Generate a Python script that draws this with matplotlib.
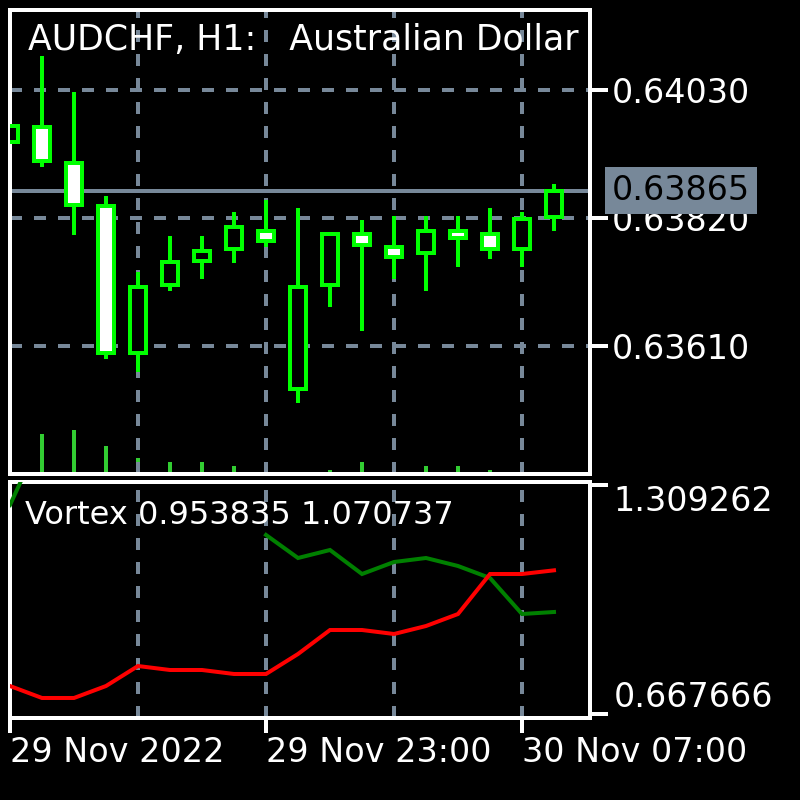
import matplotlib
matplotlib.use('Agg')
import matplotlib.pyplot as plt
from matplotlib.patches import Rectangle
import numpy as np

# ---------------- data ----------------
opens  = [0.63945, 0.63970, 0.63911, 0.63839, 0.63599, 0.63710, 0.63750, 0.63769, 0.63799,
          0.63539, 0.63710, 0.63793, 0.63773, 0.63762, 0.63799, 0.63793, 0.63769, 0.63821]
highs  = [0.63971, 0.64086, 0.64027, 0.63856, 0.63731, 0.63791, 0.63791, 0.63830, 0.63850,
          0.63836, 0.63793, 0.63817, 0.63823, 0.63823, 0.63823, 0.63836, 0.63830, 0.63876]
lows   = [0.63945, 0.63904, 0.63792, 0.63589, 0.63567, 0.63700, 0.63720, 0.63746, 0.63772,
          0.63517, 0.63674, 0.63635, 0.63720, 0.63700, 0.63740, 0.63753, 0.63740, 0.63799]
closes = [0.63971, 0.63913, 0.63842, 0.63599, 0.63707, 0.63747, 0.63766, 0.63806, 0.63782,
          0.63707, 0.63793, 0.63775, 0.63756, 0.63799, 0.63788, 0.63769, 0.63819, 0.63865]
volumes = [900, 1000, 1100, 700, 400, 300, 300, 200, 200, 20, 100, 300, 300, 200, 200, 100, 200, 20]

vortex_plus = [1.2540, 1.4500, np.nan, np.nan, np.nan, np.nan, np.nan, np.nan, 1.1700,
               1.1053, 1.1278, 1.0604, 1.0941, 1.1053, 1.0829, 1.0492, 0.9482, 0.953835]
vortex_minus = [0.7462, 0.7126, 0.7126, 0.7462, 0.8023, 0.7911, 0.7911, 0.7799, 0.7799,
                0.8360, 0.9033, 0.9033, 0.8921, 0.9145, 0.9482, 1.0604, 1.0604, 1.070737]

price_ticks = [0.63610, 0.63820, 0.64030]
current_price = 0.63865
vortex_ticks = [0.667666, 1.309262]
x_tick_bars = [0, 8, 16]
x_tick_labels = ['29 Nov 2022', '29 Nov 23:00', '30 Nov 07:00']
grid_bars = [4, 8, 12, 16]
title = 'AUDCHF, H1:   Australian Dollar vs Swiss Franc'
ind_label = 'Vortex 0.953835 1.070737'

# ---------------- style ----------------
plt.rcParams['font.family'] = ['DejaVu Sans']
FS = 24
PX = 0.72  # 1 px in points at dpi 100
LW = 4 * PX
GRID = '#778899'
LIME = '#00FF00'
VOLC = '#32CD32'

fig = plt.figure(figsize=(8, 8), dpi=100, facecolor='black')
ax = fig.add_axes([0.0125, 0.4075, 0.725, 0.58], facecolor='black')
axv = ax.twinx()
sub = fig.add_axes([0.0125, 0.1025, 0.725, 0.295], facecolor='black')

# volume axis under the price axis so the frame covers it
axv.set_zorder(0)
ax.set_zorder(1)
ax.patch.set_visible(False)
axv.patch.set_visible(True)
axv.patch.set_facecolor('black')

n = len(opens)
xs = np.arange(n)

# main panel
ax.set_xlim(0, 18.125)
ax.set_ylim(0.63400, 0.6416125)
for v in price_ticks:
    ax.axhline(v, color=GRID, lw=LW, dashes=(3, 3), zorder=1)
for b in grid_bars:
    ax.axvline(b, color=GRID, lw=LW, dashes=(3, 3), zorder=1)
ax.axhline(current_price, color=GRID, lw=LW, zorder=1.5)

ax.vlines(xs, lows, highs, color=LIME, lw=LW, zorder=2)
bw = 0.5
for i in range(n):
    o, c = opens[i], closes[i]
    fc = 'black' if c >= o else 'white'
    ax.add_patch(Rectangle((xs[i] - bw / 2, min(o, c)), bw, abs(c - o),
                           facecolor=fc, edgecolor=LIME, lw=LW, zorder=3))

axv.bar(xs, volumes, width=0.125, color=VOLC, zorder=2)
axv.set_xlim(0, 18.125)
axv.set_ylim(0, max(volumes) * 464 / 44)
axv.set_yticks([])
for s in axv.spines.values():
    s.set_visible(False)

ax.yaxis.tick_right()
ax.set_yticks(price_ticks)
ax.set_yticklabels([f'{v:.5f}' for v in price_ticks])
ax.tick_params(axis='y', colors='white', length=13, width=LW, pad=3, labelsize=FS, direction='out')
ax.set_xticks([])
for s in ax.spines.values():
    s.set_color('white')
    s.set_linewidth(LW)

ax.text(0.031, 0.972, title, transform=ax.transAxes, color='white', fontsize=25,
        ha='left', va='top', clip_on=True, zorder=6)

ax.annotate(f'{current_price:.5f}', xy=(1, current_price), xycoords=('axes fraction', 'data'),
            xytext=(22, 0), textcoords='offset pixels', ha='left', va='center',
            color='black', fontsize=FS, annotation_clip=False, zorder=10,
            bbox=dict(boxstyle='square,pad=0.2', fc=GRID, ec='none'))

# sub panel
sub.set_xlim(0, 18.125)
sub.set_ylim(0.656444, 1.318520)
for b in grid_bars:
    sub.axvline(b, color=GRID, lw=LW, dashes=(3, 3), zorder=1)
sub.plot(xs, vortex_plus, color='#008000', lw=LW, zorder=3, solid_joinstyle='miter')
sub.plot(xs, vortex_minus, color='#FF0000', lw=LW, zorder=4, solid_joinstyle='miter')
sub.text(0.026, 0.925, ind_label, transform=sub.transAxes, color='white', fontsize=23,
         ha='left', va='top', zorder=6)

sub.yaxis.tick_right()
sub.set_yticks(vortex_ticks)
sub.set_yticklabels([f'{v:.6f}' for v in vortex_ticks])
sub.tick_params(axis='y', colors='white', length=13, width=LW, pad=4, labelsize=FS)
labs = sub.get_yticklabels()
labs[0].set_va('bottom')
labs[1].set_va('top')

sub.set_xticks(x_tick_bars)
sub.set_xticklabels(x_tick_labels)
sub.tick_params(axis='x', colors='white', length=11, width=LW, pad=2, labelsize=FS)
for lab in sub.get_xticklabels():
    lab.set_ha('left')
for s in sub.spines.values():
    s.set_color('white')
    s.set_linewidth(LW)

fig.savefig('out.png', dpi=100, facecolor='black')
